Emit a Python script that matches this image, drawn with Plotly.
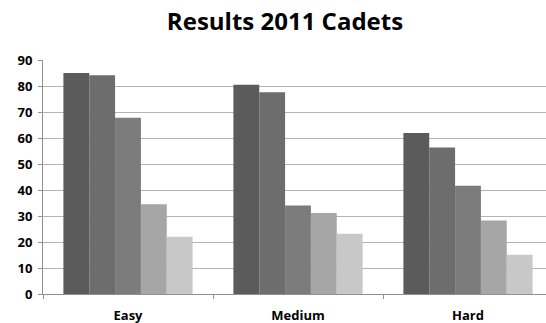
import plotly.graph_objects as go

categories = ["Easy", "Medium", "Hard"]
series_names = ["S1", "S2", "S3", "S4", "S5"]
values = [
    [85.0, 80.5, 61.9],
    [84.1, 77.6, 56.3],
    [67.8, 34.0, 41.6],
    [34.5, 31.2, 28.3],
    [22.0, 23.2, 15.1],
]
colors = ["#5b5b5b", "#6d6d6d", "#7c7c7c", "#a6a6a6", "#c8c8c8"]
y_ticks = [0, 10, 20, 30, 40, 50, 60, 70, 80, 90]

fig = go.Figure()
for name, vals, col in zip(series_names, values, colors):
    fig.add_trace(go.Bar(x=categories, y=vals, name=name, marker=dict(color=col, line=dict(width=0))))

W, H = 546, 323
ml, mr, mt, mb = 43, 0, 60, 29
plot_w = W - ml - mr
cat_px = 170
fig.update_layout(
    width=W, height=H,
    margin=dict(l=ml, r=mr, t=mt, b=mb, pad=0),
    paper_bgcolor="white", plot_bgcolor="white",
    barmode="group", bargap=0.24, bargroupgap=0,
    showlegend=False,
    title=dict(text="<b>Results 2011 Cadets</b>", x=285 / W, xanchor="center",
               y=1 - 22 / H, yanchor="middle",
               font=dict(family="Open Sans", size=24, color="#000000")),
    font=dict(family="Open Sans", color="#000000"),
)
fig.update_xaxes(
    range=[-0.5, -0.5 + plot_w / cat_px],
    tickson="boundaries", ticks="outside", ticklen=4, tickcolor="#909090",
    showline=True, linecolor="#909090", linewidth=1,
    showgrid=False,
    tickfont=dict(family="Open Sans", size=13, color="#000000", weight="bold"),
    ticklabelstandoff=9,
)
fig.update_yaxes(
    range=[0, 90], tickvals=y_ticks, ticks="outside", ticklen=4, tickcolor="#909090",
    showline=True, linecolor="#909090", linewidth=1,
    showgrid=True, gridcolor="#b4b4b4", gridwidth=1,
    zeroline=False,
    tickfont=dict(family="Open Sans", size=13, color="#000000", weight="bold"),
    ticklabelstandoff=3,
)
fig.write_html("out.html")
